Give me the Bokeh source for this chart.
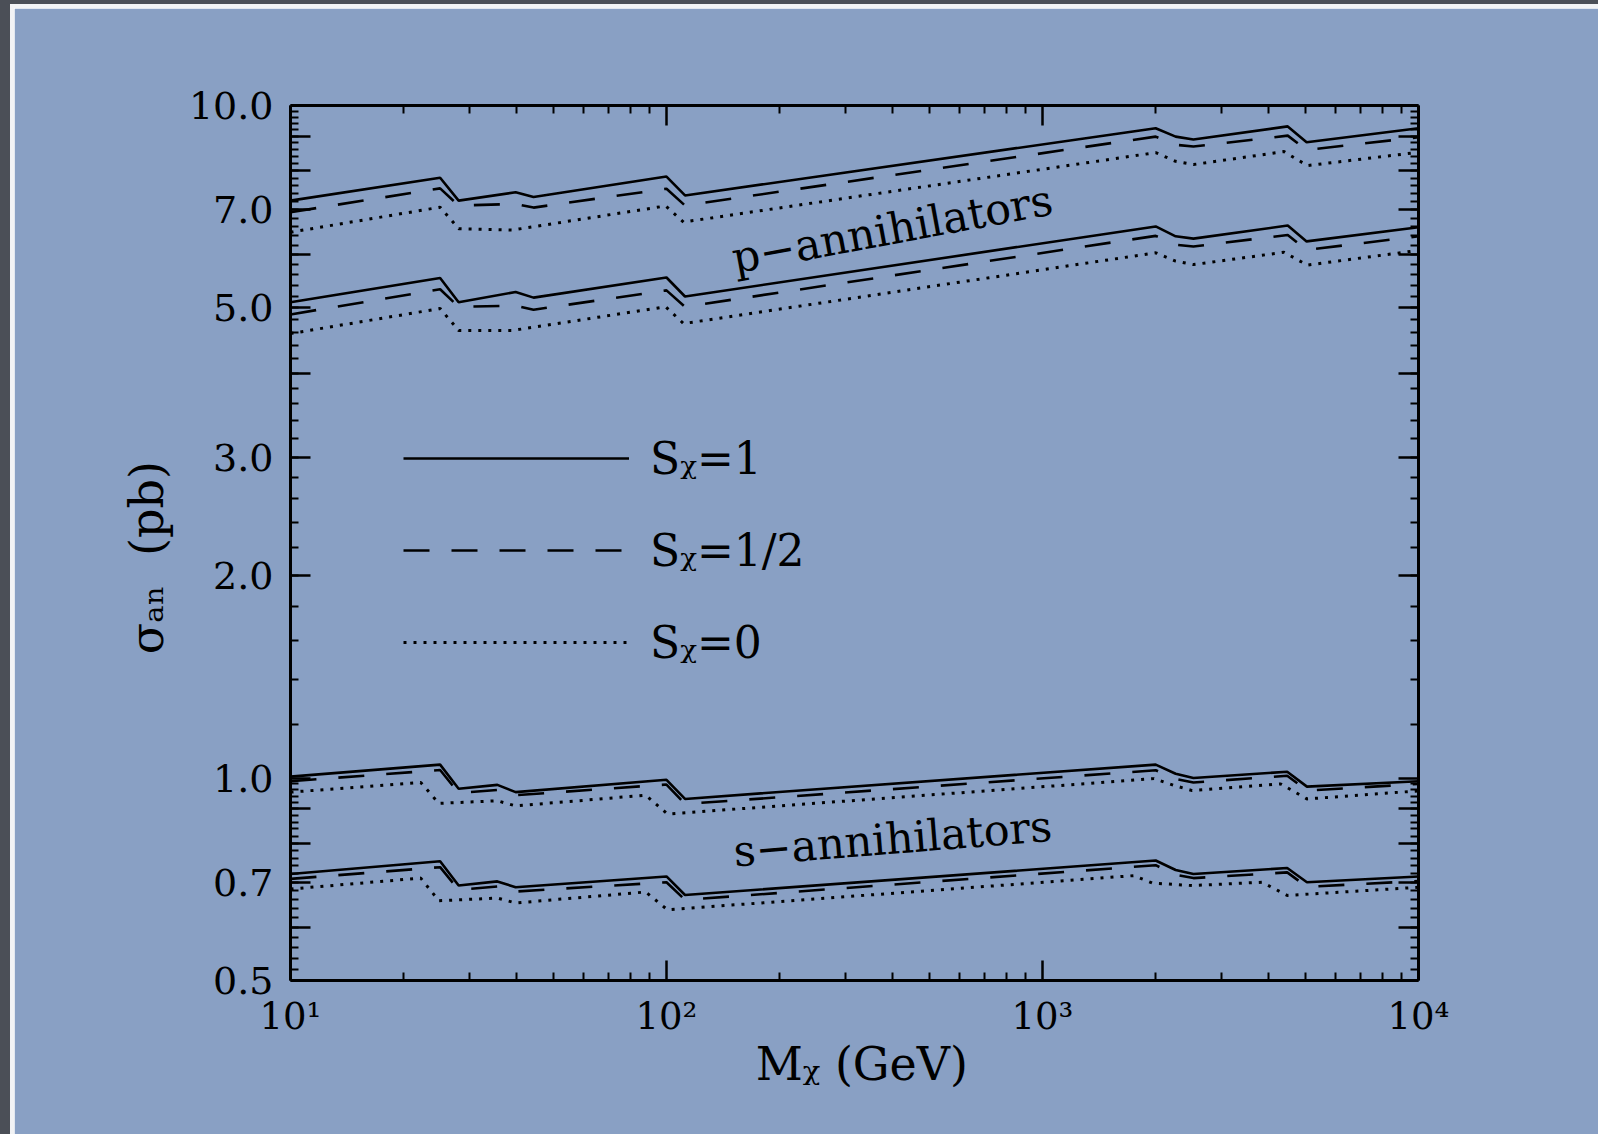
import math
import json
from bokeh.plotting import figure
from bokeh.layouts import row, column
from bokeh.models import (LogAxis, FixedTicker, CustomJSTickFormatter, Label,
                          Legend, LegendItem, Spacer)
from bokeh.embed import file_html
from bokeh.resources import INLINE

# ------------------------------------------------------------------ data
# masses (GeV) at which each curve has a kink, and sigma_an (pb) there
# p-annihilators, upper band
p_up_m = [10, 25, 28, 39.7, 44.3, 100, 112, 2000, 2260, 2520, 4490, 5040, 10000]
p_up_solid = [7.22, 7.81, 7.22, 7.43, 7.31, 7.84, 7.35, 9.25, 8.99, 8.90, 9.31, 8.82, 9.25]
p_up_dash = [6.94, 7.53, 7.10, 7.14, 7.05, 7.52, 7.10, 8.99, 8.74, 8.69, 9.02, 8.59, 8.97]
p_dot_m = [10, 25, 28, 39, 99.5, 111, 2000, 2260, 2520, 4390, 5060, 10000]
p_up_dot = [6.48, 7.06, 6.56, 6.53, 7.09, 6.71, 8.51, 8.26, 8.17, 8.54, 8.14, 8.52]
# p-annihilators, lower band
p_lo_solid = [5.10, 5.54, 5.10, 5.28, 5.18, 5.55, 5.20, 6.61, 6.39, 6.34, 6.63, 6.28, 6.59]
p_lo_dash = [4.89, 5.33, 5.02, 5.04, 4.97, 5.31, 5.02, 6.40, 6.21, 6.17, 6.42, 6.10, 6.39]
p_lo_dot = [4.58, 4.99, 4.63, 4.63, 5.02, 4.74, 6.04, 5.87, 5.80, 6.05, 5.79, 6.09]
# s-annihilators, upper band
s_m = [10, 25, 28, 35.5, 39.7, 100, 112, 2000, 2260, 2520, 4475, 5050, 10000]
s_up_solid = [1.005, 1.047, 0.964, 0.977, 0.953, 0.994, 0.931, 1.047, 1.015, 1.000, 1.022, 0.971, 0.989]
s_up_dash = [0.989, 1.028, 0.950, 0.960, 0.943, 0.978, 0.915, 1.027, 0.997, 0.985, 1.008, 0.958, 0.980]
s_up_dot_m = [10, 22.2, 24.8, 35.5, 39.7, 88, 100.6, 1980, 2240, 2500, 4300, 5050, 10000]
s_up_dot = [0.953, 0.985, 0.917, 0.925, 0.909, 0.943, 0.884, 0.998, 0.975, 0.958, 0.980, 0.931, 0.957]
# s-annihilators, lower band
s_lo_solid = [0.720, 0.752, 0.692, 0.702, 0.688, 0.714, 0.670, 0.754, 0.730, 0.720, 0.735, 0.700, 0.714]
s_lo_dash = [0.708, 0.737, 0.682, 0.690, 0.678, 0.700, 0.659, 0.742, 0.718, 0.710, 0.724, 0.689, 0.703]
s_lo_dot_m = [10, 22.2, 24.8, 35.5, 39.7, 88, 100.6, 1750, 1960, 2500, 3840, 4475, 10000]
s_lo_dot = [0.684, 0.710, 0.657, 0.663, 0.652, 0.677, 0.637, 0.716, 0.698, 0.692, 0.700, 0.669, 0.688]

# ticks and texts
x_major = [10, 100, 1000, 10000]
x_labels = ["10\u00b9", "10\u00b2", "10\u00b3", "10\u2074"]
x_minor = [k * d for d in (10, 100, 1000) for k in range(2, 10)]
y_major = [0.5, 0.6, 0.7, 0.8, 0.9, 1.0, 2.0, 3.0, 4.0, 5.0, 6.0, 7.0, 8.0, 9.0, 10.0]
y_labels = {"0.50": "0.5", "0.70": "0.7", "1.00": "1.0", "2.00": "2.0",
            "3.00": "3.0", "5.00": "5.0", "7.00": "7.0", "10.00": "10.0"}
y_minor = ([round(0.5 + 0.02 * i, 2) for i in range(1, 25)] +
           [round(1 + 0.2 * i, 1) for i in range(1, 45)])

legend_labels = ["S\u1d6a=1", "S\u1d6a=1/2", "S\u1d6a=0"]
x_title = "\u00a0M\u1d6a (GeV)"
y_title = "\u03c3\u2090\u2099\u00a0 (pb)\u00a0\u00a0"
band_labels = ["p\u2212annihilators", "s\u2212annihilators"]

# ------------------------------------------------------------------ style / layout
BG = "#89a0c4"
EDGE = "#4b4f57"
WHITE = "#f2f3f5"
FONT = "DejaVu Serif"
PAGE_W, PAGE_H = 1598, 1134
OFF_X, OFF_Y = 14, 8            # plot canvas origin on the page
W, H = PAGE_W - OFF_X, PAGE_H - OFF_Y
# frame position on the page (px)
FL, FR, FT, FB = 290, 1418, 105, 980
XLO, XHI = 10.0, 1.0e4
YLO, YHI = 0.5, 10.0


def xd(px):
    return 10 ** (math.log10(XLO) + (px - FL) / (FR - FL) * math.log10(XHI / XLO))


def yd(py):
    return 10 ** (math.log10(YHI) - (py - FT) / (FB - FT) * math.log10(YHI / YLO))


p = figure(width=W, height=H, x_axis_type="log", y_axis_type="log",
           x_range=(XLO, XHI), y_range=(YLO, YHI), title=None,
           output_backend="svg", toolbar_location=None,
           background_fill_color=BG, border_fill_color=BG,
           min_border_left=FL - OFF_X, min_border_right=PAGE_W - FR,
           min_border_top=FT - OFF_Y, min_border_bottom=PAGE_H - FB)
p.grid.visible = False
p.outline_line_color = None

blank = CustomJSTickFormatter(code="return '';")
ylab_fmt = CustomJSTickFormatter(
    code="const m = %s; const k = tick.toFixed(2); return (k in m) ? m[k] : '';"
    % json.dumps(y_labels))
xlab_fmt = CustomJSTickFormatter(
    args=dict(vals=x_major, labels=x_labels),
    code="const i = vals.findIndex(v => Math.abs(v - tick) < 1e-6 * v);"
         "return i >= 0 ? labels[i] : '';")


def style_axis(ax, ticker, formatter):
    ax.ticker = ticker
    ax.formatter = formatter
    ax.axis_line_width = 3
    ax.axis_line_color = "black"
    ax.major_tick_in = 20
    ax.major_tick_out = 0
    ax.minor_tick_in = 8
    ax.minor_tick_out = 0
    ax.major_tick_line_width = 2.5
    ax.minor_tick_line_width = 2
    ax.major_tick_line_color = "black"
    ax.minor_tick_line_color = "black"
    ax.major_label_text_font = FONT
    ax.major_label_text_color = "black"
    ax.axis_label_text_font = FONT
    ax.axis_label_text_font_style = "normal"
    ax.axis_label_text_color = "black"


xax = p.xaxis[0]
style_axis(xax, FixedTicker(ticks=x_major, minor_ticks=x_minor), xlab_fmt)
xax.major_label_text_font_size = "37px"
xax.major_label_standoff = 14
xax.axis_label = x_title
xax.axis_label_text_font_size = "46px"
xax.axis_label_standoff = -4

yax = p.yaxis[0]
style_axis(yax, FixedTicker(ticks=y_major, minor_ticks=y_minor), ylab_fmt)
yax.major_label_text_font_size = "38px"
yax.major_label_standoff = 17
yax.axis_label = y_title
yax.axis_label_text_font_size = "46px"
yax.axis_label_standoff = 12

top = LogAxis()
style_axis(top, FixedTicker(ticks=x_major, minor_ticks=x_minor), blank)
top.major_label_text_font_size = "1px"
p.add_layout(top, "above")
right = LogAxis()
style_axis(right, FixedTicker(ticks=y_major, minor_ticks=y_minor), blank)
right.major_label_text_font_size = "1px"
p.add_layout(right, "right")

# ------------------------------------------------------------------ curves
SOLID = dict(line_color="black", line_width=2.6)
DASH = dict(line_color="black", line_width=2.6, line_dash="26 22")
DOT = dict(line_color="black", line_width=3, line_dash="3 7")

r_solid = p.line(p_up_m, p_up_solid, **SOLID)
r_dash = p.line(p_up_m, p_up_dash, **DASH)
r_dot = p.line(p_dot_m, p_up_dot, **DOT)
p.line(p_up_m, p_lo_solid, **SOLID)
p.line(p_up_m, p_lo_dash, **DASH)
p.line(p_dot_m, p_lo_dot, **DOT)
p.line(s_m, s_up_solid, **SOLID)
p.line(s_m, s_up_dash, **DASH)
p.line(s_up_dot_m, s_up_dot, **DOT)
p.line(s_m, s_lo_solid, **SOLID)
p.line(s_m, s_lo_dash, **DASH)
p.line(s_lo_dot_m, s_lo_dot, **DOT)

legend = Legend(items=[LegendItem(label=legend_labels[0], renderers=[r_solid]),
                       LegendItem(label=legend_labels[1], renderers=[r_dash]),
                       LegendItem(label=legend_labels[2], renderers=[r_dot])],
                location=(403 - FL, FB - 672),
                glyph_width=226, glyph_height=60, label_height=60,
                spacing=32, label_standoff=21, padding=0, margin=0,
                border_line_color=None, background_fill_alpha=0,
                label_text_font=FONT, label_text_font_size="44px",
                label_text_color="black")
p.add_layout(legend)

# ------------------------------------------------------------------ texts in the frame
def lab(px, py, text, size, angle=0.0):
    p.add_layout(Label(x=xd(px), y=yd(py), text=text, text_font=FONT,
                       text_font_size=size, text_color="black",
                       text_align="left", text_baseline="alphabetic",
                       angle=angle))


lab(732, 258, band_labels[0], "43px", angle=math.radians(10.5))
lab(733, 851, band_labels[1], "43px", angle=math.radians(4.6))

# ------------------------------------------------------------------ slide edge (dark rim + white line)
def strip(w, h, color):
    return Spacer(width=w, height=h, styles={"background-color": color})


page = row(strip(10, PAGE_H, EDGE),
           column(strip(PAGE_W - 10, 4, EDGE),
                  strip(PAGE_W - 10, 4, WHITE),
                  row(strip(4, H, WHITE), p, spacing=0),
                  spacing=0),
           spacing=0)

open("out.html", "w").write(file_html(page, INLINE))
